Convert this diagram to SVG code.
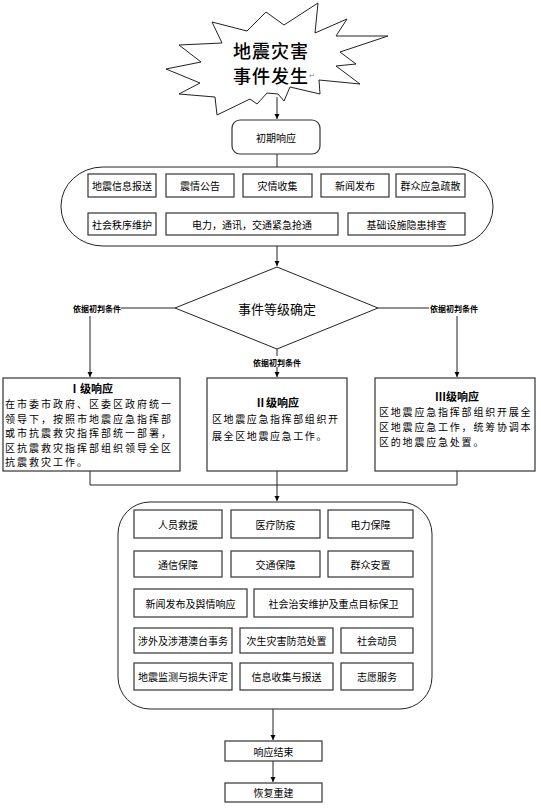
<svg xmlns="http://www.w3.org/2000/svg" width="541" height="811" viewBox="0 0 541 811">
<defs>
<marker id="arr" viewBox="0 0 10 10" refX="10" refY="5" markerWidth="5" markerHeight="6" orient="auto" markerUnits="userSpaceOnUse">
<path d="M0,0 L10,5 L0,10 Z" fill="#000"/>
</marker>
<style>
text{font-family:"Noto Sans CJK SC","Liberation Sans",sans-serif;fill:#000}
.t10{font-size:10px;text-anchor:middle;dominant-baseline:central}
.lbl{font-size:8px;text-anchor:middle;dominant-baseline:central;font-weight:bold}
.body{font-size:10px;letter-spacing:2px}
.ttl{font-size:11px;font-weight:bold;text-anchor:middle}
.box{fill:#fff;stroke:#333;stroke-width:1.2}
.big{fill:#fff;stroke:#222;stroke-width:1}
.ln{fill:none;stroke:#222;stroke-width:1}
</style>
</defs>
<rect width="541" height="811" fill="#fff"/>

<g id="connectors">
<path class="ln" d="M277,97 V119" marker-end="url(#arr)"/>
<path class="ln" d="M277,154 V167"/>
<path class="ln" d="M277,246 V266" marker-end="url(#arr)"/>
<path class="ln" d="M175,308 H121"/>
<path class="ln" d="M90,316 V377" marker-end="url(#arr)"/>
<path class="ln" d="M378,308 H429"/>
<path class="ln" d="M457,316 V377" marker-end="url(#arr)"/>
<path class="ln" d="M277,349 V377" marker-end="url(#arr)"/>
<path class="ln" d="M90,471 V485 H457 V471"/>
<path class="ln" d="M277,471 V501" marker-end="url(#arr)"/>
<path class="ln" d="M273,709 V740" marker-end="url(#arr)"/>
<path class="ln" d="M273,761 V782" marker-end="url(#arr)"/>
<rect x="252" y="356" width="50" height="11" fill="#fff"/>
<text class="lbl" x="97" y="308">依据初判条件</text>
<text class="lbl" x="454" y="308">依据初判条件</text>
<text class="lbl" x="277" y="362">依据初判条件</text>
</g>

<g id="start">
<polygon class="ln" fill="#fff" points="266,12 284,25 318,3 315,33 347,19 336,36 388,36 340,52 356,64 336,66 360,84 319,80 320,94 290,87 284,101 278,94 267,93 257,104 250,99 217,115 215,97 179,94 200,83 166,69 201,62 179,45 222,43 212,22 247,31"/>
<text x="271" y="50" style="font-size:18px;text-anchor:middle;dominant-baseline:central;letter-spacing:1px;font-weight:500">地震灾害</text>
<text x="271" y="75" style="font-size:18px;text-anchor:middle;dominant-baseline:central;letter-spacing:1px;font-weight:500">事件发生</text>
<text x="309" y="78" style="font-size:7px;fill:#888">↵</text>
</g>

<g id="initial">
<rect class="box" x="232" y="120" width="88" height="34" rx="8"/>
<text class="t10" x="276" y="137">初期响应</text>
</g>

<g id="initial-tasks">
<rect class="big" x="61" y="167" width="432" height="79" rx="42" ry="39"/>
<rect class="box" x="88" y="174" width="68" height="23"/><text class="t10" x="122" y="185.5">地震信息报送</text>
<rect class="box" x="166" y="174" width="68" height="23"/><text class="t10" x="200" y="185.5">震情公告</text>
<rect class="box" x="243" y="174" width="69" height="23"/><text class="t10" x="277.5" y="185.5">灾情收集</text>
<rect class="box" x="321" y="174" width="68" height="23"/><text class="t10" x="355" y="185.5">新闻发布</text>
<rect class="box" x="396" y="174" width="69" height="23"/><text class="t10" x="430.5" y="185.5">群众应急疏散</text>
<rect class="box" x="88" y="213" width="68" height="22"/><text class="t10" x="122" y="224">社会秩序维护</text>
<rect class="box" x="166" y="213" width="172" height="22"/><text class="t10" x="252" y="224">电力，通讯，交通紧急抢通</text>
<rect class="box" x="348" y="213" width="117" height="22"/><text class="t10" x="406.5" y="224">基础设施隐患排查</text>
</g>

<g id="decision">
<polygon class="ln" fill="#fff" points="277,267 378,308 277,349 175,308"/>
<text x="277" y="308" style="font-size:13px;text-anchor:middle;dominant-baseline:central">事件等级确定</text>
</g>

<g id="level1">
<rect class="box" x="3" y="378" width="177" height="93"/>
<text class="ttl" x="91" y="393">Ⅰ级响应</text>
<text class="body" x="5" y="408">在市委市政府、区委区政府统一</text>
<text class="body" x="5" y="422.5">领导下，按照市地震应急指挥部</text>
<text class="body" x="5" y="437">或市抗震救灾指挥部统一部署，</text>
<text class="body" x="5" y="451.5">区抗震救灾指挥部组织领导全区</text>
<text class="body" x="5" y="466">抗震救灾工作。</text>
</g>

<g id="level2">
<rect class="box" x="207" y="378" width="140" height="93"/>
<text class="ttl" x="277" y="407">Ⅱ级响应</text>
<text class="body" x="212" y="423" style="letter-spacing:1.6px">区地震应急指挥部组织开</text>
<text class="body" x="212" y="440" style="letter-spacing:1.6px">展全区地震应急工作。</text>
</g>

<g id="level3">
<rect class="box" x="375" y="378" width="160" height="93"/>
<text class="ttl" x="457" y="401">Ⅲ级响应</text>
<text class="body" x="379" y="416" style="letter-spacing:1.8px">区地震应急指挥部组织开展全</text>
<text class="body" x="379" y="431" style="letter-spacing:1.8px">区地震应急工作，统筹协调本</text>
<text class="body" x="379" y="446" style="letter-spacing:1.8px">区的地震应急处置。</text>
</g>

<g id="response-tasks">
<rect class="big" x="118" y="502" width="314" height="207" rx="32"/>
<rect class="box" x="134" y="510" width="88" height="28"/><text class="t10" x="178" y="524">人员救援</text>
<rect class="box" x="231" y="510" width="89" height="28"/><text class="t10" x="275.5" y="524">医疗防疫</text>
<rect class="box" x="328" y="510" width="85" height="28"/><text class="t10" x="370.5" y="524">电力保障</text>
<rect class="box" x="134" y="551" width="88" height="26"/><text class="t10" x="178" y="564">通信保障</text>
<rect class="box" x="231" y="551" width="89" height="26"/><text class="t10" x="275.5" y="564">交通保障</text>
<rect class="box" x="328" y="551" width="85" height="26"/><text class="t10" x="370.5" y="564">群众安置</text>
<rect class="box" x="134" y="589" width="113" height="28"/><text class="t10" x="190.5" y="603">新闻发布及舆情响应</text>
<rect class="box" x="254" y="589" width="159" height="28"/><text class="t10" x="333.5" y="603">社会治安维护及重点目标保卫</text>
<rect class="box" x="134" y="628" width="98" height="25"/><text class="t10" x="183" y="640.5">涉外及涉港澳台事务</text>
<rect class="box" x="240" y="628" width="93" height="25"/><text class="t10" x="286.5" y="640.5">次生灾害防范处置</text>
<rect class="box" x="341" y="628" width="72" height="25"/><text class="t10" x="377" y="640.5">社会动员</text>
<rect class="box" x="134" y="663" width="98" height="27"/><text class="t10" x="183" y="676.5">地震监测与损失评定</text>
<rect class="box" x="240" y="663" width="93" height="27"/><text class="t10" x="286.5" y="676.5">信息收集与报送</text>
<rect class="box" x="341" y="663" width="72" height="27"/><text class="t10" x="377" y="676.5">志愿服务</text>
</g>

<g id="end">
<rect class="box" x="225" y="741" width="97" height="20"/>
<text class="t10" x="273.5" y="751">响应结束</text>
</g>

<g id="rebuild">
<rect class="box" x="225" y="783" width="97" height="19"/>
<text class="t10" x="273.5" y="792.5">恢复重建</text>
</g>
</svg>
